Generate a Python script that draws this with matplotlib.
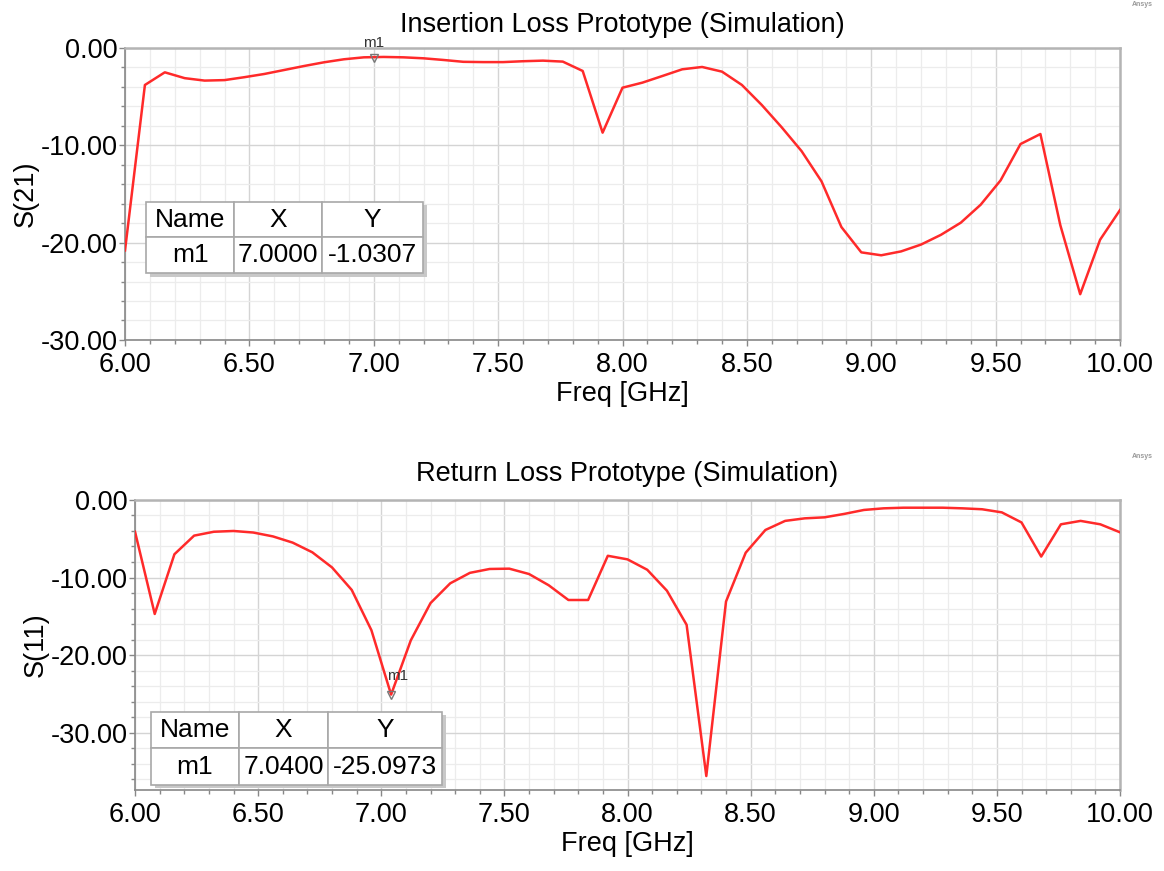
import numpy as np
import matplotlib
matplotlib.use("Agg")
import matplotlib.pyplot as plt
from matplotlib.ticker import MultipleLocator, FuncFormatter
from matplotlib.patches import Rectangle

plt.rcParams["font.family"] = ["Liberation Sans", "DejaVu Sans"]
plt.rcParams["axes.unicode_minus"] = False

# ── Data ──────────────────────────────────────────────────────────────────────
FREQ = np.linspace(6.0, 10.0, 51)   # simulation sweep, 0.08 GHz step

S21 = [-20.8, -3.8, -2.5, -3.1, -3.35, -3.3, -3.0, -2.67, -2.26, -1.85,
       -1.47, -1.16, -0.96, -0.92, -0.96, -1.06, -1.23, -1.42, -1.45, -1.45,
       -1.36, -1.3, -1.4, -2.36, -8.7, -4.08, -3.56, -2.88, -2.19, -1.95,
       -2.43, -3.8, -5.86, -8.15, -10.6, -13.7, -18.4, -21.0, -21.3, -20.9,
       -20.2, -19.2, -17.95, -16.1, -13.6, -9.87, -8.84, -18.2, -25.3, -19.7,
       -16.65]

S11 = [-4.1, -14.7, -7.0, -4.6, -4.1, -4.0, -4.2, -4.7, -5.5, -6.75,
       -8.7, -11.6, -16.8, -25.1, -18.1, -13.3, -10.75, -9.4, -8.9, -8.86,
       -9.55, -11.0, -12.9, -12.9, -7.2, -7.66, -9.0, -11.7, -16.1, -35.6,
       -13.1, -6.8, -3.87, -2.7, -2.37, -2.24, -1.8, -1.29, -1.08, -1.0,
       -1.0, -1.0, -1.08, -1.2, -1.6, -2.9, -7.3, -3.14, -2.7, -3.14,
       -4.17]

M1_TOP = (7.0000, -1.0307)
M1_BOT = (7.0400, -25.0973)

TITLES  = ["Insertion Loss Prototype (Simulation)", "Return Loss Prototype (Simulation)"]
YLABELS = ["S(21)", "S(11)"]
YLIMS   = [(-30.0, 0.0), (-37.4, 0.0)]

LINE_COLOR = "#ff2a2a"
FS = 19.5


def style_axes(ax, ylim):
    ax.set_xlim(6.0, 10.0)
    ax.set_ylim(*ylim)
    ax.xaxis.set_major_locator(MultipleLocator(0.5))
    ax.xaxis.set_minor_locator(MultipleLocator(0.1))
    ax.yaxis.set_major_locator(MultipleLocator(10))
    ax.yaxis.set_minor_locator(MultipleLocator(2))
    fmt = FuncFormatter(lambda v, p: f"{v + 0.0:.2f}".replace("-0.00", "0.00"))
    ax.xaxis.set_major_formatter(FuncFormatter(lambda v, p: f"{v:.2f}"))
    ax.yaxis.set_major_formatter(fmt)
    ax.grid(which="major", color="#d4d4d4", lw=1.0)
    ax.grid(which="minor", color="#ececec", lw=0.9)
    ax.set_axisbelow(True)
    ax.tick_params(which="major", direction="out", length=4, width=1,
                   color="#888888", labelsize=FS)
    ax.tick_params(which="minor", direction="out", length=3, width=1,
                   color="#888888")
    ax.tick_params(axis="x", which="major", pad=5)
    ax.tick_params(axis="y", which="major", pad=1.5)
    for side in ["left", "bottom"]:
        ax.spines[side].set_color("#888888")
        ax.spines[side].set_linewidth(1.2)
    for side in ["top", "right"]:
        ax.spines[side].set_color("#b4b4b4")
        ax.spines[side].set_linewidth(1.8)


def marker_table(ax, bbox, col_widths, row):
    x, y, w, h = bbox
    shadow = Rectangle((x + 0.004, y - 0.012), w, h, transform=ax.transAxes,
                       facecolor="#c8c8c8", edgecolor="none", zorder=4)
    ax.add_patch(shadow)
    tbl = ax.table(cellText=[row], colLabels=["Name", "X", "Y"],
                   colWidths=col_widths, bbox=bbox, cellLoc="center",
                   zorder=5)
    tbl.auto_set_font_size(False)
    for cell in tbl.get_celld().values():
        cell.set_edgecolor("#a8a8a8")
        cell.set_linewidth(1.2)
        cell.set_facecolor("white")
        cell.get_text().set_fontsize(19)
    return tbl


fig = plt.figure(figsize=(11.64, 8.71), dpi=100)
ax1 = fig.add_axes([0.1074, 0.6097, 0.8548, 0.3352])
ax2 = fig.add_axes([0.1160, 0.0930, 0.8462, 0.3330])

# ── Top: insertion loss ───────────────────────────────────────────────────────
ax1.plot(FREQ, S21, color=LINE_COLOR, lw=1.8, zorder=3)
style_axes(ax1, YLIMS[0])
ax1.set_title(TITLES[0], fontsize=FS, pad=11.5)
ax1.set_xlabel("Freq [GHz]", fontsize=FS, labelpad=2)
ax1.set_ylabel(YLABELS[0], fontsize=FS, labelpad=1)
ax1.plot(M1_TOP[0], M1_TOP[1], marker="v", ms=6, mfc="none", mec="#777777",
         mew=1, zorder=6, clip_on=False)
ax1.annotate("m1", M1_TOP, xytext=(0, 6), textcoords="offset points",
             ha="center", va="bottom", fontsize=11, color="#333333")
marker_table(ax1, [0.0211, 0.2284, 0.2784, 0.2452], [0.318, 0.318, 0.364],
             ["m1", f"{M1_TOP[0]:.4f}", f"{M1_TOP[1]:.4f}"])

# ── Bottom: return loss ───────────────────────────────────────────────────────
ax2.plot(FREQ, S11, color=LINE_COLOR, lw=1.8, zorder=3)
style_axes(ax2, YLIMS[1])
ax2.set_title(TITLES[1], fontsize=FS, pad=13.5)
ax2.set_xlabel("Freq [GHz]", fontsize=FS, labelpad=2)
ax2.set_ylabel(YLABELS[1], fontsize=FS, labelpad=1)
ax2.plot(M1_BOT[0], M1_BOT[1], marker="v", ms=6, mfc="none", mec="#777777",
         mew=1, zorder=6)
ax2.annotate("m1", M1_BOT, xytext=(-3, 8), textcoords="offset points",
             ha="left", va="bottom", fontsize=11, color="#333333")
marker_table(ax2, [0.0159, 0.0172, 0.2960, 0.2528], [0.303, 0.306, 0.391],
             ["m1", f"{M1_BOT[0]:.4f}", f"{M1_BOT[1]:.4f}"])

# Ansys watermark
for ypix in (5, 456):
    fig.text(1142 / 1164, 1 - ypix / 871, "Ansys", fontsize=5, color="#999999",
             weight="bold", ha="center", va="center")

fig.savefig("out.png", dpi=100)
